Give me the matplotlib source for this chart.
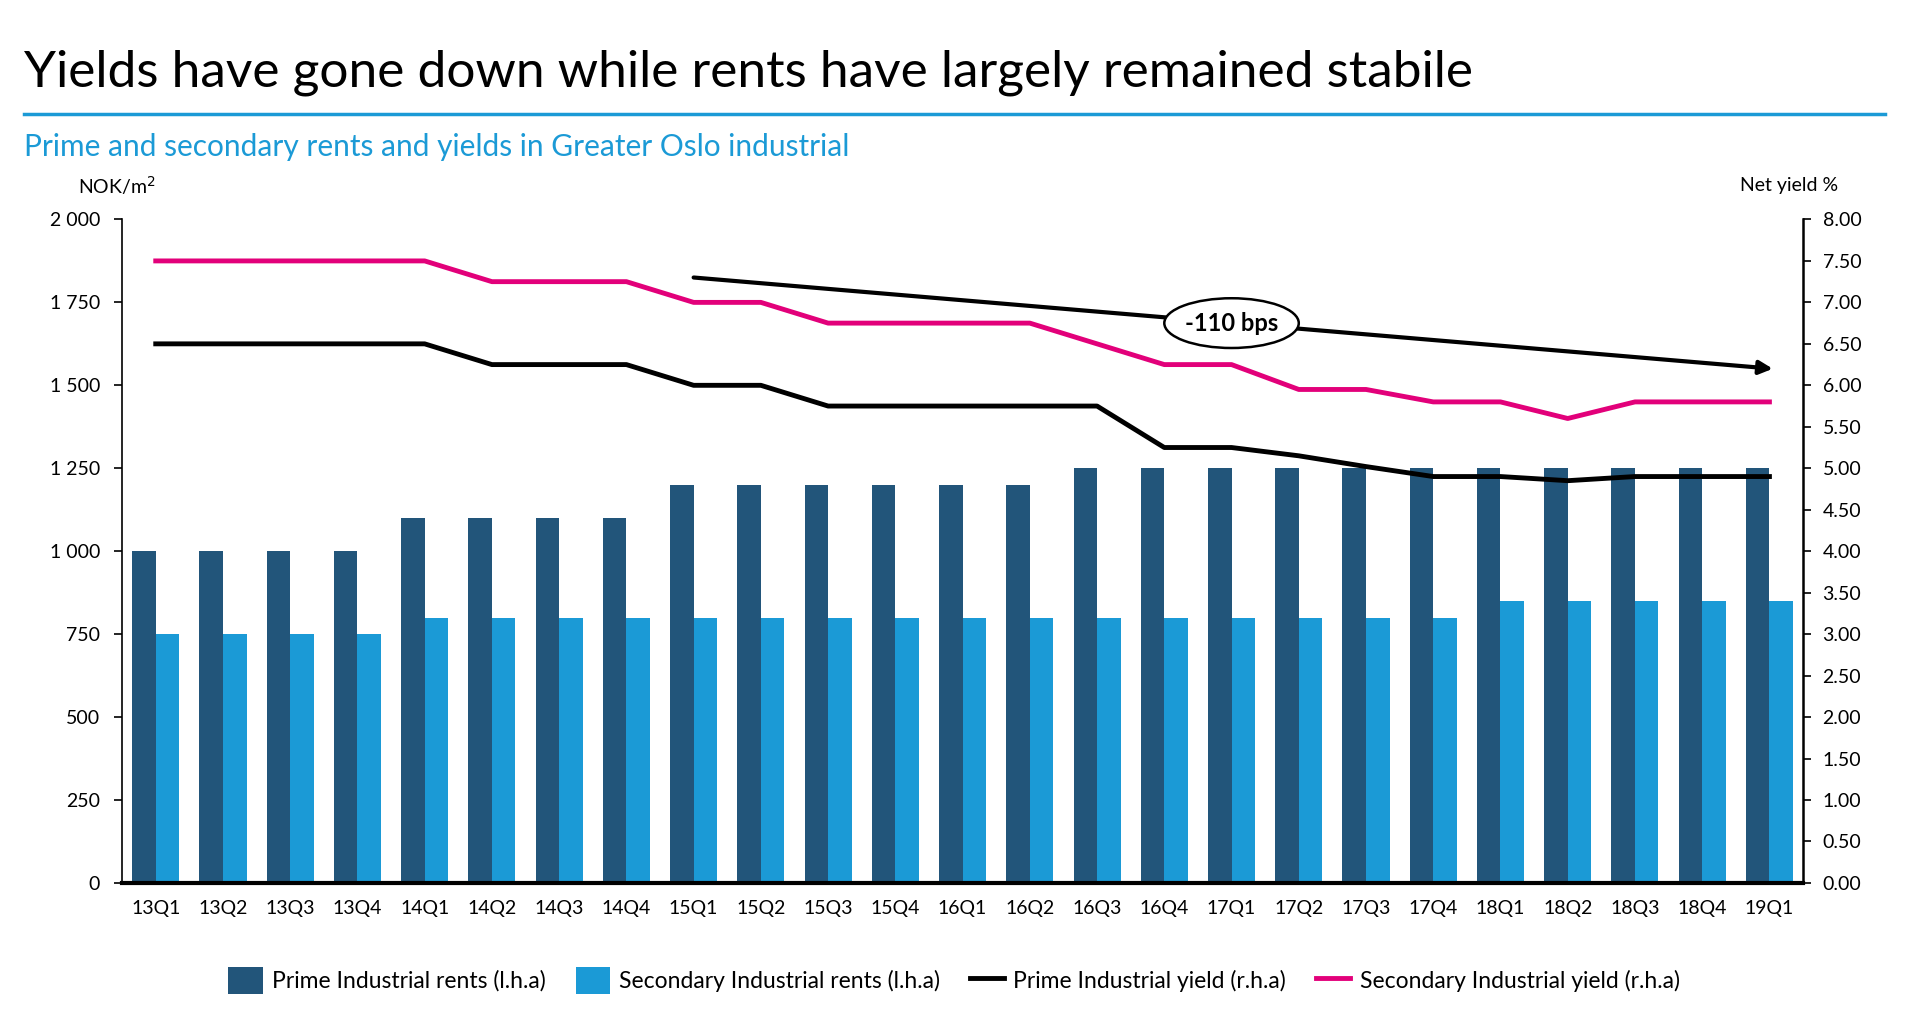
import matplotlib.pyplot as plt
from matplotlib.patches import Ellipse
from matplotlib.ticker import FuncFormatter
import numpy as np

plt.rcParams['font.family'] = ['Lato', 'DejaVu Sans']

quarters = ['13Q1', '13Q2', '13Q3', '13Q4', '14Q1', '14Q2', '14Q3', '14Q4',
            '15Q1', '15Q2', '15Q3', '15Q4', '16Q1', '16Q2', '16Q3', '16Q4',
            '17Q1', '17Q2', '17Q3', '17Q4', '18Q1', '18Q2', '18Q3', '18Q4', '19Q1']
prime_rents = [1000, 1000, 1000, 1000, 1100, 1100, 1100, 1100,
               1200, 1200, 1200, 1200, 1200, 1200, 1250, 1250,
               1250, 1250, 1250, 1250, 1250, 1250, 1250, 1250, 1250]
secondary_rents = [750, 750, 750, 750, 800, 800, 800, 800,
                   800, 800, 800, 800, 800, 800, 800, 800,
                   800, 800, 800, 800, 850, 850, 850, 850, 850]
prime_yield = [6.50, 6.50, 6.50, 6.50, 6.50, 6.25, 6.25, 6.25,
               6.00, 6.00, 5.75, 5.75, 5.75, 5.75, 5.75, 5.25,
               5.25, 5.15, 5.02, 4.90, 4.90, 4.85, 4.90, 4.90, 4.90]
secondary_yield = [7.50, 7.50, 7.50, 7.50, 7.50, 7.25, 7.25, 7.25,
                   7.00, 7.00, 6.75, 6.75, 6.75, 6.75, 6.50, 6.25,
                   6.25, 5.95, 5.95, 5.80, 5.80, 5.60, 5.80, 5.80, 5.80]
trend_start = ('15Q1', 7.30)
trend_end = ('19Q1', 6.20)

dark_blue = '#22557a'
light_blue = '#1b9ad6'
pink = '#e2007a'

fig = plt.figure(figsize=(19.08, 10.16), dpi=100)
ax = fig.add_axes([0.064, 0.131, 0.881, 0.653])
x = np.arange(len(quarters))
w = 0.35
ax.bar(x - w / 2, prime_rents, w, color=dark_blue, label='Prime Industrial rents (l.h.a)')
ax.bar(x + w / 2, secondary_rents, w, color=light_blue, label='Secondary Industrial rents (l.h.a)')
ax.set_xlim(-0.5, len(quarters) - 0.5)
ax.set_ylim(0, 2000)
ax.set_yticks(np.arange(0, 2001, 250))
ax.yaxis.set_major_formatter(FuncFormatter(lambda v, p: f'{int(v):,}'.replace(',', ' ')))
ax.set_xticks(x)
ax.set_xticklabels(quarters)
ax.tick_params(axis='x', length=0, pad=12, labelsize=14)
ax.tick_params(axis='y', length=6, width=1.2, labelsize=14, pad=10)
for s in ['top', 'right']:
    ax.spines[s].set_visible(False)
ax.spines['left'].set_linewidth(1.2)
ax.spines['bottom'].set_linewidth(3)

ax2 = ax.twinx()
ax2.plot(x, prime_yield, color='black', lw=3.5, solid_joinstyle='round', label='Prime Industrial yield (r.h.a)')
ax2.plot(x, secondary_yield, color=pink, lw=3.5, solid_joinstyle='round', label='Secondary Industrial yield (r.h.a)')
ax2.set_ylim(0, 8)
ax2.set_yticks(np.arange(0, 8.01, 0.5))
ax2.yaxis.set_major_formatter(FuncFormatter(lambda v, p: f'{v:.2f}'))
ax2.tick_params(axis='y', length=6, width=1.2, labelsize=14, pad=8)
for s in ['top', 'left', 'bottom']:
    ax2.spines[s].set_visible(False)
ax2.spines['right'].set_linewidth(1.8)

# trend arrow
x0 = quarters.index(trend_start[0])
x1 = quarters.index(trend_end[0])
ax2.annotate('', xy=(x1 + 0.05, trend_end[1]), xytext=(x0, trend_start[1]),
             arrowprops=dict(arrowstyle='-|>,head_length=0.8,head_width=0.4', color='black', lw=3,
                             shrinkA=0, shrinkB=0))
mid_x = 16.0
mid_y = trend_start[1] + (trend_end[1] - trend_start[1]) * (mid_x - x0) / (x1 - x0)
ax2.add_patch(Ellipse((mid_x, mid_y), 2.0, 0.6, facecolor='white', edgecolor='black', lw=1.8, zorder=5))
ax2.text(mid_x, mid_y, '-110 bps', ha='center', va='center', fontsize=17, fontweight='bold', zorder=6)

fig.text(0.0126, 0.928, 'Yields have gone down while rents have largely remained stabile',
         fontsize=37, ha='left', va='center')
fig.add_artist(plt.Line2D([0.0126, 0.988], [0.888, 0.888], color=light_blue, lw=2.5))
fig.text(0.0126, 0.855, 'Prime and secondary rents and yields in Greater Oslo industrial',
         fontsize=21.5, color=light_blue, ha='left', va='center')
fig.text(0.041, 0.817, 'NOK/m$^2$', fontsize=14, ha='left', va='center')
fig.text(0.912, 0.817, 'Net yield %', fontsize=14, ha='left', va='center')

h1, l1 = ax.get_legend_handles_labels()
h2, l2 = ax2.get_legend_handles_labels()
fig.legend(h1 + h2, l1 + l2, loc='center', bbox_to_anchor=(0.5, 0.035), ncol=4, frameon=False,
           fontsize=16.5, handlelength=1.5, handleheight=1.4, columnspacing=1.3, handletextpad=0.4)

fig.savefig('out.png', dpi=100)
